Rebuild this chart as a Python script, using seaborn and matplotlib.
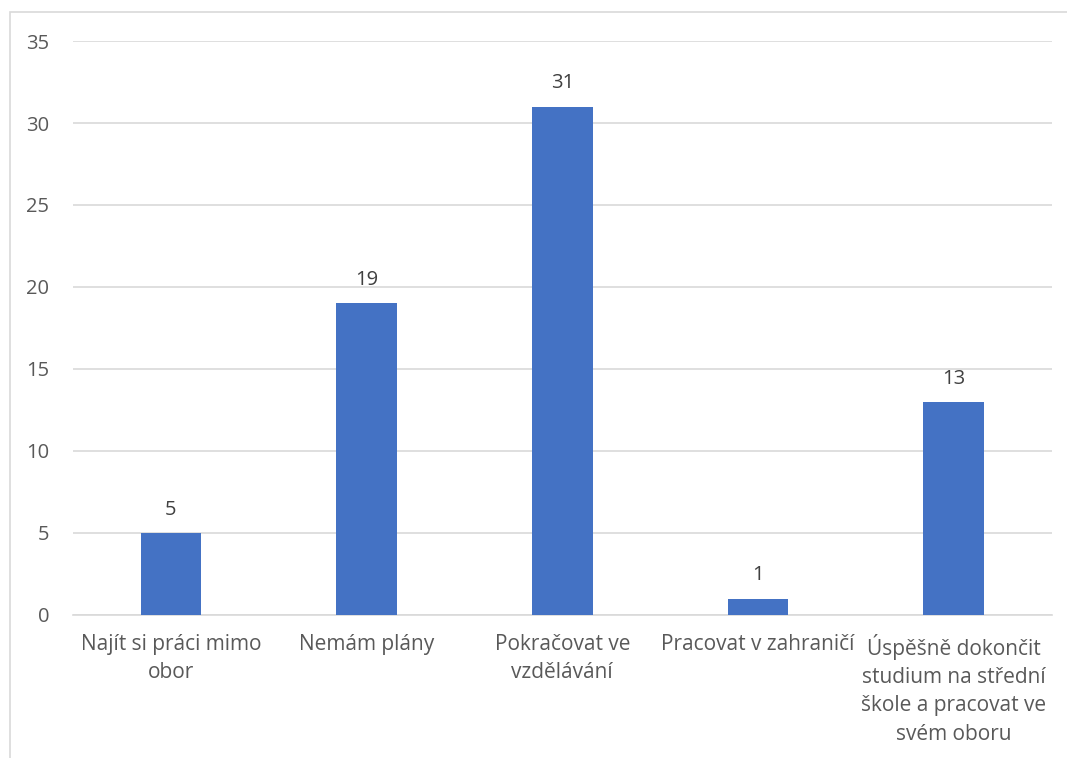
import matplotlib
matplotlib.use("Agg")
import matplotlib.pyplot as plt
from matplotlib.patches import Rectangle
import pandas as pd
import seaborn as sns

categories = [
    "Najít si práci mimo\nobor",
    "Nemám plány",
    "Pokračovat ve\nvzdělávání",
    "Pracovat v zahraničí",
    "Úspěšně dokončit\nstudium na střední\nškole a pracovat ve\nsvém oboru",
]
values = [5, 19, 31, 1, 13]
yticks = [0, 5, 10, 15, 20, 25, 30, 35]

df = pd.DataFrame({"category": categories, "count": values})

sns.set_theme(style="white")
plt.rcParams["font.family"] = ["Open Sans", "DejaVu Sans"]
text_color = "#595959"

fig = plt.figure(figsize=(10.67, 7.58), dpi=100)
ax = fig.add_axes([0.0685, 0.1887, 0.917, 0.7572])

sns.barplot(data=df, x="category", y="count", color="#4472C4", width=0.31,
            saturation=1, linewidth=0, ax=ax, zorder=3)

for i, v in enumerate(values):
    ax.text(i, v + 0.8, str(v), ha="center", va="bottom", fontsize=14.5, color="#404040")

ax.set_ylim(0, 35)
ax.set_xlim(-0.5, len(categories) - 0.5)
ax.set_yticks(yticks)
ax.yaxis.grid(True, color="#d9d9d9", linewidth=1.2, zorder=0)
ax.xaxis.grid(False)
for s in ["top", "right", "left"]:
    ax.spines[s].set_visible(False)
ax.spines["bottom"].set_color("#d9d9d9")
ax.spines["bottom"].set_linewidth(1.2)
ax.set_xlabel("")
ax.set_ylabel("")
ax.tick_params(axis="y", length=0, pad=17, labelsize=14.5, labelcolor=text_color)
ax.tick_params(axis="x", length=0, pad=14, labelsize=15, labelcolor=text_color)
for lbl in ax.get_xticklabels():
    lbl.set_linespacing(1.44)

# chart border (cut off at right and bottom like the source)
fig.patches.append(Rectangle((10 / 1067, -0.1), 1.2, 1 - 12 / 758 + 0.1,
                             transform=fig.transFigure, fill=False,
                             edgecolor="#d9d9d9", linewidth=1.2))

fig.savefig("out.png", dpi=100)
